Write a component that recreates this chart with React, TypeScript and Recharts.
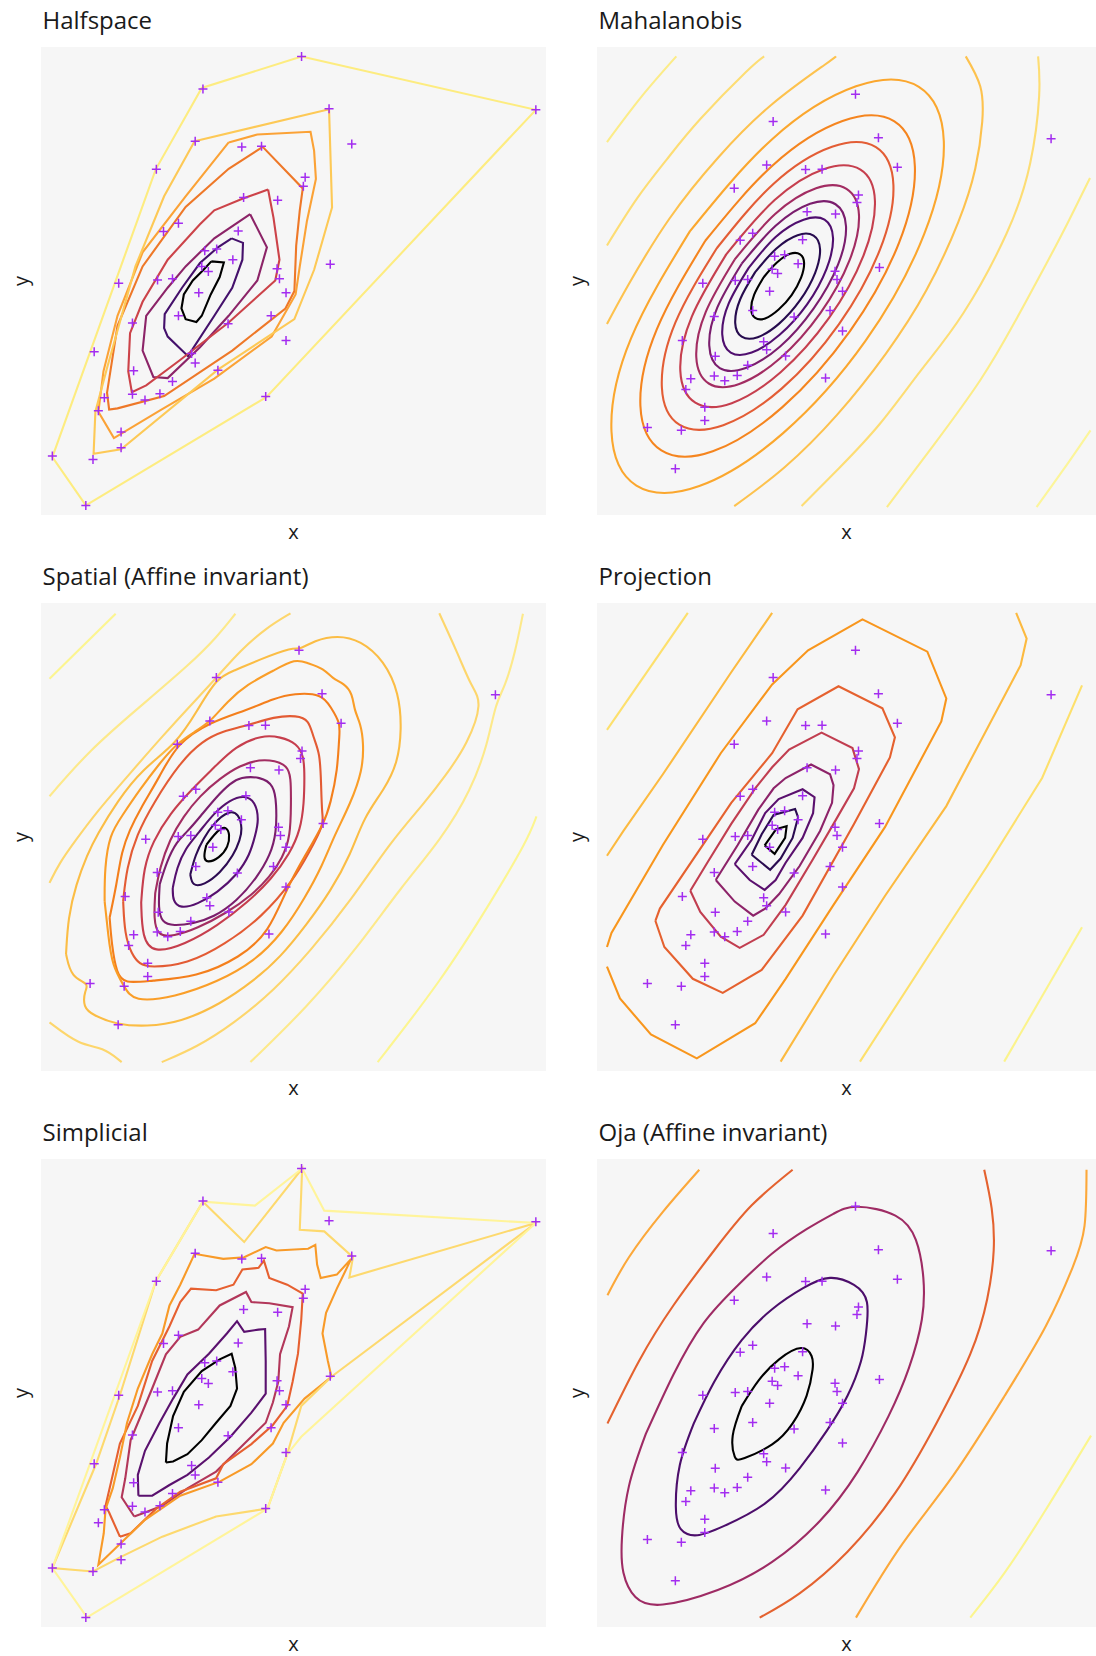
import React from 'react';
import { ComposedChart, Line, Scatter, XAxis, YAxis, CartesianGrid } from 'recharts';

type Pair = [number, number];

// the bivariate sample, shown in every panel
const SAMPLE: Pair[] = [
  [51.8, 89.9], [35.3, 84.1], [56.4, 80.6], [91.0, 80.4], [34.0, 74.8], [41.8, 73.8], [45.1, 73.9], [60.2, 74.3],
  [27.5, 69.8], [52.4, 68.4], [52.1, 66.8], [42.1, 64.8], [47.8, 64.3], [31.2, 60.2], [28.7, 58.7], [41.2, 58.8],
  [35.6, 55.3], [37.6, 55.6], [40.3, 53.7], [56.6, 52.9], [47.7, 52.1], [35.1, 52.5], [36.2, 51.6], [48.1, 50.3],
  [21.2, 49.5], [27.7, 50.1], [30.2, 50.3], [49.2, 47.8], [34.6, 47.8], [31.2, 43.7], [46.7, 43.7], [23.5, 42.4],
  [39.5, 42.3], [49.2, 39.3], [17.1, 37.3], [33.4, 37.0], [34.0, 35.3], [23.7, 33.9], [37.8, 34.0], [30.2, 32.0],
  [23.5, 29.7], [28.1, 29.8], [25.6, 28.7], [18.8, 29.1], [45.8, 29.3], [17.8, 26.8], [21.6, 23.0], [21.6, 20.2],
  [10.1, 18.7], [16.9, 18.1], [15.7, 9.9],
];

// contour pieces, deepest first; *_LEVEL = palette index of each piece
const HALF_CONTOURS: Pair[][] = [
  [[36.7, 53.4], [38.8, 53.2], [38.1, 50.6], [36.6, 47.5], [35.1, 43.7], [34.2, 42.6], [32.4, 43.1], [31.7, 45.0], [32.1, 47.5], [33.6, 50.0], [35.4, 51.9], [36.7, 53.4]],
  [[40.1, 57.5], [42.0, 56.7], [41.9, 53.7], [40.2, 48.7], [37.2, 43.7], [32.8, 36.5], [29.4, 40.0], [28.8, 41.5], [28.9, 44.0], [31.8, 48.7], [34.8, 53.1], [37.8, 55.9], [40.1, 57.5]],
  [[43.2, 61.8], [46.0, 55.9], [44.4, 50.0], [39.6, 43.7], [34.8, 38.1], [29.4, 32.6], [27.0, 32.8], [25.2, 37.5], [25.8, 43.7], [29.4, 48.7], [32.4, 52.5], [37.2, 57.5], [43.2, 61.8]],
  [[46.2, 66.2], [47.1, 61.2], [48.1, 53.7], [47.4, 50.0], [39.6, 42.5], [31.2, 35.6], [25.8, 31.3], [23.4, 30.1], [22.8, 33.8], [23.1, 40.6], [25.2, 46.2], [29.4, 53.7], [34.8, 60.0], [37.2, 62.5], [42.0, 64.6], [46.2, 66.2]],
  [[45.3, 73.8], [52.0, 66.4], [51.5, 62.5], [50.9, 56.2], [50.6, 48.1], [49.1, 45.0], [40.2, 37.5], [28.8, 29.4], [21.0, 27.2], [19.6, 27.0], [19.25, 30.0], [21.0, 41.9], [25.2, 52.5], [32.4, 63.1], [39.6, 69.9], [45.3, 73.8]],
  [[39.6, 74.6], [44.4, 76.0], [53.3, 76.5], [53.9, 73.1], [54.2, 68.1], [52.7, 60.6], [51.5, 52.5], [50.8, 47.5], [46.8, 40.0], [37.2, 32.5], [28.2, 26.9], [20.4, 21.9], [17.8, 26.6], [18.65, 33.8], [21.0, 43.7], [25.2, 55.0], [32.4, 65.0], [39.6, 74.6]],
  [[33.9, 74.8], [56.4, 80.5], [56.9, 63.0], [53.9, 51.9], [50.6, 43.1], [37.8, 34.1], [21.6, 19.9], [17.0, 19.1], [17.3, 26.6], [19.25, 34.4], [24.0, 52.5], [28.8, 65.0], [33.9, 74.8]],
  [[51.8, 89.9], [91.0, 80.4], [45.9, 29.2], [15.7, 9.9], [10.1, 18.5], [27.4, 69.8], [35.1, 84.3], [51.8, 89.9]],
];
const HALF_LEVEL = [0, 1, 2, 3, 4, 5, 6, 7];
const HALF_COLORS = ['#000000', '#44106b', '#8c2468', '#cc4349', '#ee7828', '#fba236', '#fdc956', '#fdec80'];

const MAHA_CONTOURS: Pair[][] = [
  [[33.4, 50.8], [31.5, 47.1], [30.9, 43.9], [31.7, 42.1], [33.7, 42.0], [36.4, 43.9], [39.0, 47.0], [40.9, 50.7], [41.5, 53.9], [40.7, 55.7], [38.7, 55.8], [36.0, 53.9], [33.4, 50.8]],
  [[31.7, 51.9], [28.7, 46.1], [27.7, 41.0], [29.0, 38.1], [32.2, 38.0], [36.5, 40.9], [40.7, 45.9], [43.7, 51.7], [44.7, 56.8], [43.4, 59.7], [40.2, 59.8], [35.9, 56.9], [31.7, 51.9]],
  [[30.4, 52.8], [26.4, 45.2], [25.1, 38.6], [26.8, 34.7], [31.0, 34.7], [36.6, 38.5], [42.1, 45.0], [46.0, 52.6], [47.3, 59.2], [45.6, 63.1], [41.4, 63.1], [35.8, 59.4], [30.4, 52.8]],
  [[29.0, 53.7], [24.1, 44.3], [22.5, 36.2], [24.6, 31.4], [29.8, 31.4], [36.7, 36.0], [43.4, 44.1], [48.3, 53.5], [49.9, 61.7], [47.8, 66.4], [42.7, 66.5], [35.8, 61.8], [29.0, 53.7]],
  [[27.6, 54.6], [21.8, 43.4], [19.9, 33.7], [22.4, 28.1], [28.5, 28.0], [36.7, 33.5], [44.8, 43.2], [50.6, 54.4], [52.5, 64.1], [50.0, 69.7], [43.9, 69.8], [35.7, 64.3], [27.6, 54.6]],
  [[25.9, 55.7], [19.0, 42.4], [16.7, 30.8], [19.7, 24.0], [27.0, 23.9], [36.8, 30.5], [46.5, 42.1], [53.4, 55.4], [55.7, 67.1], [52.8, 73.8], [45.4, 73.9], [35.6, 67.3], [25.9, 55.7]],
  [[24.0, 57.0], [15.7, 41.1], [13.0, 27.3], [16.5, 19.3], [25.3, 19.2], [37.0, 27.0], [48.5, 40.8], [56.7, 56.7], [59.4, 70.5], [55.9, 78.6], [47.1, 78.7], [35.4, 70.8], [24.0, 57.0]],
  [[21.7, 58.6], [12.0, 39.7], [8.7, 23.3], [12.9, 13.8], [23.2, 13.6], [37.1, 23.0], [50.7, 39.3], [60.5, 58.1], [63.7, 74.5], [59.6, 84.1], [49.2, 84.2], [35.3, 74.8], [21.7, 58.6]],
  [[18.6, 60.6], [6.8, 37.7], [2.9, 17.9], [7.9, 6.3], [20.5, 6.2], [37.3, 17.5], [53.8, 37.2], [65.6, 60.1], [69.5, 79.9], [64.5, 91.5], [51.9, 91.6], [35.1, 80.3], [18.6, 60.6]],
  [[47.9, 98.0], [45.5, 96.1], [34.9, 87.6], [24.3, 76.4], [14.5, 63.3], [6.3, 49.2], [2.0, 40.8]],
  [[73.9, 98.0], [76.8, 91.6], [77.2, 84.0], [75.8, 74.0], [72.4, 62.6], [66.0, 48.0], [57.9, 34.5], [48.1, 21.4], [37.6, 10.2], [27.5, 1.9]],
  [[33.5, 98.0], [29.8, 94.6], [20.7, 84.6], [14.0, 76.0], [8.0, 67.6], [2.0, 57.6]],
  [[88.4, 98.0], [88.6, 89.4], [86.8, 75.1], [82.1, 60.2], [73.4, 43.1], [65.0, 31.0], [56.7, 19.5], [48.5, 10.0], [41.0, 1.9]],
  [[15.9, 98.0], [9.0, 89.5], [2.0, 79.7]],
  [[98.8, 72.0], [94.6, 63.0], [90.1, 53.8], [83.6, 41.0], [76.8, 28.8], [67.5, 15.0], [58.1, 1.7]],
  [[98.9, 18.1], [93.6, 9.9], [88.1, 1.7]],
];
const MAHA_LEVEL = [0, 1, 2, 3, 4, 5, 6, 7, 8, 9, 9, 10, 10, 11, 11, 12];
const MAHA_COLORS = ['#000000', '#260b4e', '#4f0e6e', '#7a1d6d', '#a22c62', '#c63f4e', '#e35d35', '#f5851f', '#fba72e', '#fdc24e', '#fddd74', '#fcec88', '#fcf59a'];

const SPAT_CONTOURS: Pair[][] = [
  [[33.3, 48.3], [34.9, 50.6], [36.3, 51.9], [37.3, 52.1], [38.0, 50.6], [37.7, 47.9], [35.9, 45.5], [33.4, 44.4], [32.7, 45.7], [33.3, 48.3]],
  [[30.1, 42.0], [31.1, 46.2], [32.8, 49.8], [34.8, 53.0], [37.8, 55.7], [39.8, 55.0], [40.5, 51.6], [40.0, 49.4], [38.8, 46.2], [36.1, 42.3], [32.8, 39.7], [30.5, 39.5], [30.1, 42.0]],
  [[26.6, 39.1], [27.4, 43.4], [29.1, 47.6], [31.8, 50.9], [34.8, 55.1], [38.1, 58.0], [40.9, 58.9], [43.1, 57.6], [43.8, 53.7], [43.1, 50.5], [42.0, 46.2], [39.5, 42.0], [35.5, 38.1], [31.5, 35.6], [28.1, 34.7], [26.6, 36.3], [26.6, 39.1]],
  [[24.0, 39.9], [25.4, 44.8], [27.4, 49.1], [29.4, 51.0], [32.1, 54.4], [35.4, 58.7], [38.1, 61.5], [40.1, 62.8], [44.1, 62.9], [46.8, 61.1], [47.3, 57.2], [47.3, 50.9], [46.1, 46.2], [43.4, 41.3], [39.4, 36.3], [34.7, 32.8], [30.7, 31.5], [26.7, 31.0], [24.4, 31.7], [23.7, 34.9], [24.0, 39.9]],
  [[23.1, 38.0], [24.0, 43.4], [26.0, 49.5], [28.7, 54.4], [32.0, 58.8], [36.0, 62.5], [40.0, 65.3], [44.0, 66.6], [47.0, 66.3], [49.4, 65.2], [50.2, 62.9], [50.2, 57.2], [50.1, 50.2], [48.5, 45.5], [46.0, 41.5], [42.4, 37.6], [37.4, 33.8], [31.4, 30.4], [26.7, 28.8], [23.6, 28.8], [22.8, 32.5], [23.1, 38.0]],
  [[20.3, 36.0], [20.8, 43.4], [22.6, 49.0], [26.0, 55.0], [30.6, 60.4], [34.9, 64.9], [39.1, 69.4], [44.4, 71.8], [48.1, 71.4], [51.4, 70.0], [52.8, 67.2], [52.9, 62.9], [52.8, 57.2], [52.1, 51.6], [50.0, 46.5], [46.3, 41.0], [41.5, 36.0], [35.5, 31.0], [29.0, 27.0], [22.7, 25.1], [20.5, 28.5], [20.3, 36.0]],
  [[16.7, 36.3], [17.4, 43.4], [19.4, 50.5], [22.7, 57.2], [28.1, 66.0], [32.5, 70.5], [36.5, 72.6], [41.8, 73.9], [46.8, 75.7], [51.4, 76.0], [53.8, 75.0], [54.6, 71.4], [56.0, 67.9], [56.2, 61.5], [56.4, 54.4], [56.8, 52.9], [54.0, 47.0], [50.5, 40.5], [44.5, 33.0], [37.0, 27.0], [29.5, 22.8], [22.0, 22.1], [20.0, 22.8], [18.4, 24.9], [17.0, 29.2], [16.7, 36.3]],
  [[14.0, 32.8], [15.4, 39.9], [16.4, 47.0], [18.0, 51.5], [20.0, 55.8], [24.0, 62.9], [27.4, 70.0], [34.1, 74.6], [41.4, 77.1], [46.8, 79.6], [50.8, 80.7], [56.4, 80.6], [58.1, 77.8], [60.1, 74.3], [59.8, 71.4], [59.5, 64.3], [58.1, 57.2], [56.8, 52.9], [53.0, 46.0], [49.4, 39.2], [45.8, 29.6], [40.1, 24.3], [31.4, 20.0], [22.0, 19.3], [17.0, 18.7], [15.4, 20.7], [14.4, 27.1], [14.0, 32.8]],
  [[13.0, 36.3], [13.0, 43.4], [14.0, 50.5], [16.4, 54.4], [20.0, 60.1], [24.0, 65.8], [27.4, 70.0], [31.0, 72.5], [34.1, 74.6], [37.5, 79.0], [41.4, 82.6], [46.8, 85.6], [51.1, 88.1], [53.4, 87.2], [56.8, 86.0], [58.5, 83.8], [60.8, 82.8], [62.5, 80.6], [62.8, 77.1], [64.1, 74.3], [64.7, 70.0], [64.5, 64.3], [62.1, 57.2], [58.8, 50.2], [56.5, 44.0], [53.0, 37.0], [48.5, 29.5], [43.0, 23.5], [35.5, 19.0], [27.0, 15.8], [18.7, 14.7], [16.9, 18.1], [14.5, 22.5], [13.7, 29.2], [13.0, 36.3]],
  [[5.3, 25.0], [5.7, 32.8], [7.3, 39.9], [9.5, 46.2], [11.5, 50.5], [15.5, 57.6], [20.5, 64.5], [27.4, 70.0], [31.5, 77.0], [35.4, 84.1], [39.0, 85.6], [43.4, 87.7], [50.8, 90.7], [51.8, 89.9], [54.8, 92.0], [59.5, 93.1], [64.1, 92.0], [68.8, 87.7], [71.8, 80.7], [72.3, 72.9], [71.5, 65.8], [68.8, 60.1], [64.8, 54.4], [62.1, 46.2], [58.1, 38.4], [53.4, 31.4], [48.1, 24.3], [42.8, 19.3], [36.1, 14.3], [28.1, 10.4], [21.4, 9.5], [15.4, 9.9], [10.7, 11.9], [8.7, 13.6], [9.0, 17.2], [10.0, 18.6], [6.3, 20.0], [5.3, 25.0]],
  [[50.1, 97.8], [45.4, 94.8], [40.1, 89.9], [35.4, 84.1], [30.5, 78.5], [24.5, 71.5], [18.0, 63.5], [11.5, 55.5], [7.0, 49.0], [4.0, 44.5], [2.0, 40.2]],
  [[79.8, 97.8], [83.5, 89.2], [86.2, 82.1], [88.5, 78.9], [85.5, 70.0], [81.0, 63.0], [76.8, 57.2], [70.1, 49.0], [62.1, 36.3], [54.1, 25.7], [46.8, 17.2], [38.7, 10.1], [31.4, 5.1], [24.4, 1.9]],
  [[2.0, 10.4], [8.0, 5.5], [12.7, 5.1], [16.4, 1.9]],
  [[2.0, 58.7], [10.0, 68.6], [20.0, 77.8], [30.1, 87.0], [35.4, 92.7], [39.1, 97.7]],
  [[96.5, 97.7], [94.9, 89.2], [92.9, 82.1], [91.0, 78.5], [89.5, 70.0], [86.2, 60.1], [80.2, 49.5], [72.1, 39.2], [63.5, 26.4], [53.4, 13.6], [42.1, 1.9]],
  [[2.0, 83.8], [15.2, 97.7]],
  [[99.2, 54.4], [97.5, 49.5], [90.2, 36.3], [80.2, 19.3], [67.5, 1.9]],
];
const SPAT_LEVEL = [0, 1, 2, 3, 4, 5, 6, 7, 8, 9, 10, 10, 10, 11, 11, 12, 12];
const SPAT_COLORS = ['#000000', '#2d0b52', '#55106e', '#7b1e6c', '#a22d62', '#c63e4d', '#e35b34', '#f47f1c', '#fa9e28', '#fbbd45', '#fdd66c', '#fde98a', '#fcf590'];

const PROJ_CONTOURS: Pair[][] = [
  [[33.6, 48.2], [35.9, 51.7], [38.0, 52.3], [37.7, 49.8], [35.6, 46.4], [33.6, 48.2]],
  [[31.0, 46.2], [33.0, 50.6], [35.4, 54.7], [39.7, 56.0], [40.3, 54.2], [39.2, 49.8], [36.8, 45.4], [34.7, 43.0], [31.0, 46.2]],
  [[27.6, 44.2], [31.0, 49.4], [33.7, 55.1], [36.4, 58.1], [41.2, 60.2], [43.6, 58.5], [43.3, 55.1], [41.2, 49.8], [37.8, 44.5], [35.8, 40.8], [33.6, 38.7], [30.6, 40.8], [27.6, 44.2]],
  [[23.8, 40.8], [28.2, 48.3], [32.3, 55.8], [35.4, 60.4], [37.8, 62.6], [42.9, 65.5], [46.7, 63.4], [47.4, 61.1], [47.1, 57.3], [44.7, 51.3], [40.6, 43.8], [36.5, 37.8], [33.7, 34.7], [31.3, 33.2], [27.6, 36.2], [23.8, 40.8]],
  [[18.7, 38.5], [22.1, 44.5], [26.9, 52.8], [31.7, 60.4], [35.1, 64.9], [38.5, 68.7], [45.0, 72.3], [51.2, 69.0], [52.5, 64.5], [51.5, 60.4], [47.4, 52.8], [43.3, 45.3], [37.8, 35.5], [33.4, 29.1], [28.6, 26.3], [24.8, 28.7], [20.7, 34.0], [18.7, 38.5]],
  [[11.7, 32.1], [12.6, 34.7], [26.9, 57.3], [35.1, 67.9], [40.2, 77.3], [48.4, 82.2], [57.2, 77.5], [59.7, 71.3], [58.7, 67.0], [51.5, 52.8], [41.2, 33.2], [33.0, 21.6], [25.2, 16.7], [19.2, 19.7], [13.5, 26.5], [11.7, 32.1]],
  [[2.0, 22.3], [4.6, 15.5], [10.8, 7.8], [20.0, 2.7], [31.7, 10.2], [37.8, 19.7], [47.4, 35.5], [57.7, 52.1], [69.0, 74.7], [70.0, 79.6], [66.2, 89.6], [53.2, 96.5], [42.3, 89.9], [35.1, 82.6], [24.8, 67.9], [13.2, 48.3], [2.9, 29.5], [2.0, 26.5]],
  [[35.1, 97.9], [26.9, 85.2], [13.2, 63.4], [5.3, 51.3], [2.0, 46.0]],
  [[84.0, 97.9], [86.1, 92.4], [84.9, 86.7], [70.0, 56.6], [57.7, 37.4], [47.4, 20.4], [36.8, 2.0]],
  [[18.2, 97.9], [2.0, 72.9]],
  [[97.2, 82.4], [89.2, 62.6], [78.2, 43.8], [66.6, 24.9], [52.7, 2.0]],
  [[97.2, 30.7], [81.6, 2.0]],
];
const PROJ_LEVEL = [0, 1, 2, 3, 4, 5, 6, 7, 7, 8, 8, 9];
const PROJ_COLORS = ['#000000', '#2a0b50', '#5a106e', '#8d2369', '#c13e50', '#e5612f', '#f8961d', '#fcba40', '#fde06c', '#fbf38c'];

const SIMP_CONTOURS: Pair[][] = [
  [[29.1, 37.5], [29.3, 40.9], [30.3, 45.8], [32.1, 50.1], [35.1, 53.8], [38.1, 55.9], [40.1, 56.9], [40.7, 54.4], [41.0, 50.7], [39.9, 47.6], [37.5, 44.6], [35.1, 41.5], [32.7, 39.0], [30.3, 37.7], [29.1, 37.5]],
  [[24.5, 31.6], [24.4, 35.3], [25.6, 39.6], [28.0, 44.5], [30.3, 48.9], [32.7, 53.2], [36.3, 56.9], [39.3, 60.5], [41.0, 62.7], [42.2, 60.8], [44.6, 61.2], [45.7, 61.3], [45.8, 55.6], [45.8, 49.8], [43.4, 46.4], [39.9, 42.1], [36.3, 38.4], [32.7, 35.3], [29.7, 33.5], [26.8, 31.6], [24.5, 31.6]],
  [[23.8, 27.9], [21.7, 31.3], [22.3, 34.7], [23.2, 41.5], [26.8, 50.7], [29.1, 56.8], [31.5, 59.9], [34.5, 61.2], [38.1, 65.5], [42.5, 67.9], [43.4, 66.1], [46.4, 65.9], [50.3, 65.2], [49.7, 61.8], [48.2, 56.8], [47.9, 51.9], [47.0, 48.2], [45.8, 44.6], [42.8, 41.5], [37.5, 35.9], [32.7, 32.9], [28.5, 29.8], [25.6, 28.6], [23.8, 27.9]],
  [[21.4, 24.3], [19.6, 28.6], [19.0, 29.8], [20.2, 35.3], [21.4, 40.9], [24.4, 47.6], [26.8, 55.6], [29.7, 61.8], [31.5, 66.1], [33.3, 68.5], [37.5, 68.2], [40.4, 69.2], [41.9, 71.9], [44.6, 72.2], [45.5, 73.5], [46.4, 70.4], [49.4, 69.2], [52.0, 67.6], [51.75, 63.0], [51.2, 56.9], [50.3, 51.9], [49.4, 47.6], [47.0, 44.2], [43.4, 40.8], [38.7, 37.2], [37.5, 34.7], [31.5, 32.3], [27.4, 29.2], [23.2, 24.9], [21.4, 24.3]],
  [[31.5, 69.2], [33.9, 74.7], [38.7, 73.8], [42.2, 74.1], [45.8, 75.9], [47.6, 75.3], [52.9, 75.6], [54.1, 76.3], [54.4, 72.8], [55.0, 70.4], [57.7, 71.0], [60.1, 73.8], [57.7, 68.5], [55.9, 64.2], [55.3, 60.5], [56.2, 55.6], [56.8, 52.8], [52.3, 48.9], [48.8, 44.6], [47.0, 40.9], [43.4, 37.2], [38.1, 34.1], [31.5, 31.6], [25.6, 27.3], [21.4, 23.0], [17.8, 19.3], [18.7, 24.9], [19.0, 29.2], [20.2, 32.9], [21.4, 38.4], [22.6, 44.6], [24.4, 50.7], [26.8, 56.8], [28.5, 60.5], [29.7, 65.5], [31.5, 69.2]],
  [[35.3, 84.0], [42.2, 76.8], [51.9, 89.9], [51.5, 79.0], [55.6, 78.7], [60.4, 74.1], [59.8, 70.5], [91.0, 80.2], [56.8, 52.8], [51.75, 47.6], [49.4, 39.0], [46.1, 29.3], [37.5, 27.9], [28.5, 24.3], [21.4, 20.6], [16.9, 18.1], [10.1, 18.7], [17.4, 37.2], [21.4, 49.5], [27.4, 69.8], [35.3, 84.0]],
  [[51.9, 89.9], [55.6, 82.4], [91.0, 80.2], [51.75, 42.1], [49.4, 39.0], [46.1, 29.3], [15.9, 9.9], [10.1, 18.7], [27.4, 69.8], [35.3, 84.0], [44.0, 83.3], [51.9, 89.9]],
];
const SIMP_LEVEL = [0, 1, 2, 3, 4, 5, 6];
const SIMP_COLORS = ['#000000', '#5a116e', '#b2375a', '#e66030', '#f89a28', '#fdd96e', '#fff49a'];

const OJA_CONTOURS: Pair[][] = [
  [[29.0, 47.2], [32.4, 52.7], [36.5, 57.2], [40.9, 59.6], [43.0, 57.9], [43.2, 55.0], [42.0, 49.4], [39.2, 43.5], [35.1, 39.0], [29.6, 36.1], [27.6, 36.4], [27.2, 40.9], [29.0, 47.2]],
  [[19.4, 43.5], [23.5, 52.4], [29.0, 61.3], [35.1, 67.9], [41.3, 72.4], [46.7, 74.6], [51.5, 73.1], [54.1, 69.4], [53.9, 62.7], [52.9, 56.8], [50.2, 49.4], [46.1, 42.0], [40.6, 33.9], [33.7, 26.4], [25.5, 21.6], [20.1, 19.6], [16.8, 20.9], [15.8, 25.7], [16.6, 34.6], [19.4, 43.5]],
  [[9.8, 41.3], [15.3, 53.9], [21.4, 65.0], [28.3, 73.1], [35.1, 79.8], [42.0, 85.0], [47.4, 88.3], [52.2, 89.8], [59.8, 87.9], [63.9, 82.7], [65.4, 74.6], [65.1, 65.7], [62.5, 55.3], [58.4, 45.0], [52.2, 33.1], [44.7, 22.7], [35.1, 13.9], [24.2, 7.9], [13.2, 4.8], [7.7, 6.4], [5.3, 11.6], [5.0, 19.0], [6.4, 30.1], [9.8, 41.3]],
  [[39.2, 97.7], [31.0, 90.1], [23.5, 80.5], [15.3, 68.7], [8.4, 56.8], [2.1, 43.5]],
  [[77.6, 97.7], [79.1, 89.4], [79.5, 80.5], [78.2, 70.1], [74.8, 58.3], [68.0, 43.5], [59.8, 28.7], [50.2, 16.1], [40.6, 7.2], [32.6, 2.0]],
  [[20.5, 97.7], [13.2, 88.7], [6.4, 79.0], [2.1, 70.9]],
  [[98.1, 97.7], [97.7, 85.7], [95.3, 76.8], [89.9, 64.2], [81.7, 49.4], [71.4, 32.4], [61.1, 17.6], [51.9, 2.0]],
  [[99.0, 40.9], [89.9, 25.0], [81.7, 11.6], [74.8, 2.0]],
];
const OJA_LEVEL = [0, 1, 2, 3, 3, 4, 4, 5];
const OJA_COLORS = ['#000000', '#4c0e6b', '#9e2b64', '#e4622f', '#fca83a', '#fbf58e'];

const HULL_X: [number, number] = [8.2, 92.7];
const HULL_Y: [number, number] = [8.2, 91.6];
const WIDE_X: [number, number] = [0, 100];
const WIDE_Y: [number, number] = [0, 100];

const COL_LEFT = [41, 597];
const COL_WIDTH = [505, 499];
const ROW_TOP = [47, 603, 1159];
const PLOT_H = 468;
const Y_AXIS_W = 41;
const X_AXIS_H = 34;
const FONT = '"Open Sans", "Noto Sans", sans-serif';

const toXY = (pts: Pair[]) => pts.map(([x, y]) => ({ x, y }));
const sampleData = toXY(SAMPLE);

const PlusMark = (props: any) => {
  const { cx, cy } = props;
  if (cx == null || cy == null) return null;
  return (
    <path
      d={`M${cx - 4.5},${cy}H${cx + 4.5}M${cx},${cy - 4.5}V${cy + 4.5}`}
      stroke="#a32cf0"
      strokeWidth={1.5}
      fill="none"
    />
  );
};

interface PanelProps {
  title: string;
  col: number;
  row: number;
  xDomain: [number, number];
  yDomain: [number, number];
  contours: Pair[][];
  levels: number[];
  colors: string[];
  curve: 'linear' | 'natural' | 'basis';
}

const Panel: React.FC<PanelProps> = ({ title, col, row, xDomain, yDomain, contours, levels, colors, curve }) => {
  const plotW = COL_WIDTH[col];
  const left = COL_LEFT[col];
  const top = ROW_TOP[row];
  return (
    <>
      <div
        style={{
          position: 'absolute',
          left: left + 1.5,
          top: top - 39.3,
          fontSize: 24,
          lineHeight: '24px',
          color: '#1a1a1a',
          whiteSpace: 'nowrap',
        }}
      >
        {title}
      </div>
      <div style={{ position: 'absolute', left: left - Y_AXIS_W, top }}>
        <ComposedChart
          width={plotW + Y_AXIS_W}
          height={PLOT_H + X_AXIS_H}
          margin={{ top: 0, right: 0, bottom: 0, left: 0 }}
        >
          <CartesianGrid horizontal={false} vertical={false} fill="#f6f6f6" stroke="none" />
          <XAxis
            type="number"
            dataKey="x"
            domain={xDomain}
            allowDataOverflow
            height={X_AXIS_H}
            tick={false}
            tickLine={false}
            axisLine={false}
            label={{ value: 'x', position: 'center', fill: '#1a1a1a', fontSize: 20 }}
          />
          <YAxis
            type="number"
            dataKey="y"
            domain={yDomain}
            allowDataOverflow
            width={Y_AXIS_W}
            tick={false}
            tickLine={false}
            axisLine={false}
            label={{ value: 'y', angle: -90, position: 'center', fill: '#1a1a1a', fontSize: 20 }}
          />
          {contours.map((pts, i) => (
            <Line
              key={`c-${i}`}
              data={toXY(pts)}
              dataKey="y"
              type={curve}
              stroke={colors[levels[i]]}
              strokeWidth={2.1}
              dot={false}
              activeDot={false}
              isAnimationActive={false}
            />
          ))}
          <Scatter data={sampleData} dataKey="y" shape={PlusMark} isAnimationActive={false} />
        </ComposedChart>
      </div>
    </>
  );
};

export default function App() {
  return (
    <div
      style={{
        position: 'absolute',
        left: 0,
        top: 0,
        width: 1096,
        height: 1656,
        background: '#ffffff',
        fontFamily: FONT,
        overflow: 'hidden',
      }}
    >
      <Panel title="Halfspace" col={0} row={0} xDomain={HULL_X} yDomain={HULL_Y}
        contours={HALF_CONTOURS} levels={HALF_LEVEL} colors={HALF_COLORS} curve="linear" />
      <Panel title="Mahalanobis" col={1} row={0} xDomain={WIDE_X} yDomain={WIDE_Y}
        contours={MAHA_CONTOURS} levels={MAHA_LEVEL} colors={MAHA_COLORS} curve="natural" />
      <Panel title="Spatial (Affine invariant)" col={0} row={1} xDomain={[0.3, 101.1]} yDomain={WIDE_Y}
        contours={SPAT_CONTOURS} levels={SPAT_LEVEL} colors={SPAT_COLORS} curve="basis" />
      <Panel title="Projection" col={1} row={1} xDomain={WIDE_X} yDomain={WIDE_Y}
        contours={PROJ_CONTOURS} levels={PROJ_LEVEL} colors={PROJ_COLORS} curve="linear" />
      <Panel title="Simplicial" col={0} row={2} xDomain={HULL_X} yDomain={HULL_Y}
        contours={SIMP_CONTOURS} levels={SIMP_LEVEL} colors={SIMP_COLORS} curve="linear" />
      <Panel title="Oja (Affine invariant)" col={1} row={2} xDomain={WIDE_X} yDomain={WIDE_Y}
        contours={OJA_CONTOURS} levels={OJA_LEVEL} colors={OJA_COLORS} curve="natural" />
    </div>
  );
}
